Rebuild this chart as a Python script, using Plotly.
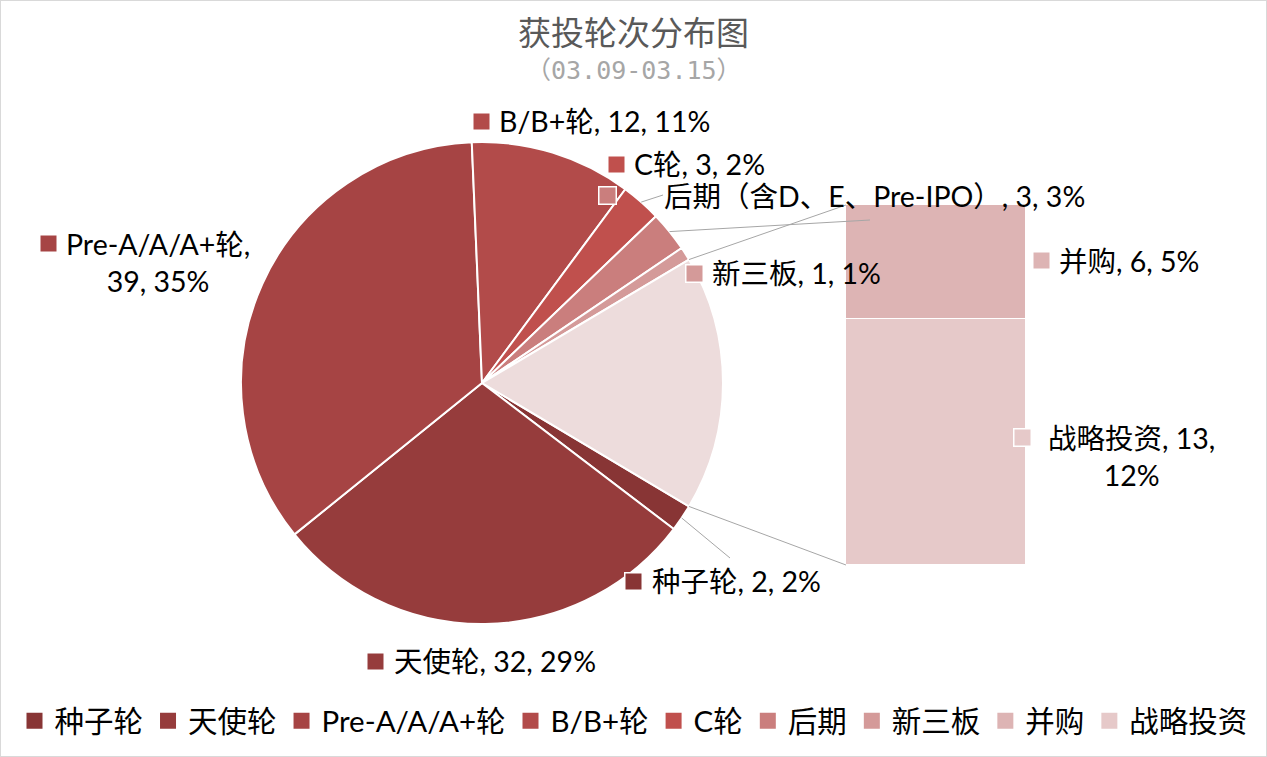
import math
import plotly.graph_objects as go

# ---------------- data ----------------
pie_labels = ["种子轮", "天使轮", "Pre-A/A/A+轮", "B/B+轮", "C轮", "后期", "新三板"]
pie_label_text = ["种子轮", "天使轮", "Pre-A/A/A+轮", "B/B+轮", "C轮", "后期（含D、E、Pre-IPO）", "新三板"]
pie_values = [2, 32, 39, 12, 3, 3, 1]
pie_pcts = ["2%", "29%", "35%", "11%", "2%", "3%", "1%"]

bar_labels = ["战略投资", "并购"]
bar_values = [13, 6]
bar_pcts = ["12%", "5%"]

legend_order = ["种子轮", "天使轮", "Pre-A/A/A+轮", "B/B+轮", "C轮", "后期", "新三板", "并购", "战略投资"]

title_text = "获投轮次分布图"
subtitle_text = "（03.09-03.15）"

# ---------------- styles ----------------
W, H = 1267, 757
colors = {
    "种子轮": "#883535",
    "天使轮": "#963C3C",
    "Pre-A/A/A+轮": "#A64444",
    "B/B+轮": "#B24B4A",
    "C轮": "#C0504D",
    "后期": "#CA7E7D",
    "新三板": "#D49A99",
    "并购": "#DDB4B4",
    "战略投资": "#E6C9C9",
}
other_color = "#EDDCDC"
FONT = "Lato, 'Noto Sans CJK SC', sans-serif"
LINE_GRAY = "#A6A6A6"


def px(x):
    return x / W


def py(y):
    return 1 - y / H


# pie geometry (pixels)
cx, cy, R = 482, 383, 241
# bar geometry (pixels)
bx0, bx1, by0, by1 = 846, 1026, 205, 565

total = sum(pie_values) + sum(bar_values)
other_val = sum(bar_values)
cum_before_other = sum(pie_values)
rotation = 90 - (cum_before_other + other_val / 2) / total * 360
rotation = rotation % 360


def angle_at(v):
    return rotation + v / total * 360


def pie_point(a):
    r = math.radians(a)
    return cx + R * math.sin(r), cy - R * math.cos(r)


fig = go.Figure()

fig.add_trace(go.Pie(
    labels=pie_labels + ["其他"],
    values=pie_values + [other_val],
    sort=False,
    direction="clockwise",
    rotation=rotation,
    marker=dict(colors=[colors[l] for l in pie_labels] + [other_color],
                line=dict(color="white", width=2)),
    textinfo="none",
    hoverinfo="label+value+percent",
    showlegend=False,
    domain=dict(x=[px(cx - R), px(cx + R)], y=[py(cy + R), py(cy - R)]),
))

for name, val in zip(bar_labels, bar_values):
    fig.add_trace(go.Bar(
        x=[0], y=[val], name=name, width=1,
        marker=dict(color=colors[name], line=dict(color="white", width=1.5)),
        showlegend=False, hoverinfo="name+y",
        xaxis="x", yaxis="y",
    ))

for name in legend_order:
    fig.add_trace(go.Scatter(
        x=[None], y=[None], mode="markers", name=name,
        marker=dict(symbol="square", size=18, color=colors[name]),
        xaxis="x", yaxis="y", showlegend=True,
    ))

# ---------------- annotations ----------------
ann = []
ann.append(dict(text=title_text, x=0.5, y=py(32), xref="paper", yref="paper",
                showarrow=False, font=dict(size=33, color="#595959", family=FONT),
                xanchor="center", yanchor="middle"))
ann.append(dict(text=subtitle_text, x=0.5, y=py(70), xref="paper", yref="paper",
                showarrow=False,
                font=dict(size=25, color="#A6A6A6", family="'DejaVu Sans Mono', 'Noto Sans CJK SC', monospace"),
                xanchor="center", yanchor="middle"))

vals_by_name = dict(zip(pie_labels, pie_values))
pcts_by_name = dict(zip(pie_labels, pie_pcts))
vals_by_name.update(dict(zip(bar_labels, bar_values)))
pcts_by_name.update(dict(zip(bar_labels, bar_pcts)))
full_name = dict(zip(pie_labels, pie_label_text))
full_name.update({b: b for b in bar_labels})

# label placement: (square x center, square y, text x, text y, text anchor)
label_pos = {
    "B/B+轮": (481, 121, 497, 121, "left"),
    "C轮": (616, 164, 632, 164, "left"),
    "后期": (607, 196, 662, 196, "left"),
    "新三板": (694, 273, 710, 273, "left"),
    "并购": (1041, 261, 1057, 261, "left"),
    "战略投资": (1022, 437, 1131, 456, "center"),
    "种子轮": (633, 581, 650, 581, "left"),
    "天使轮": (375, 661, 392, 661, "left"),
    "Pre-A/A/A+轮": (48, 243, 158, 262, "center"),
}
for name, (sx, sy, tx, ty, anchor) in label_pos.items():
    if name == "Pre-A/A/A+轮":
        txt = f"{full_name[name]},<br>{vals_by_name[name]}, {pcts_by_name[name]}"
    elif name == "战略投资":
        txt = f"{full_name[name]}, {vals_by_name[name]},<br>{pcts_by_name[name]}"
    else:
        txt = f"{full_name[name]}, {vals_by_name[name]}, {pcts_by_name[name]}"
    # legend-key square of the data label
    ann.append(dict(text=" ", x=px(sx), y=py(sy), xref="paper", yref="paper",
                    showarrow=False, width=16, height=16, borderpad=0,
                    bgcolor=colors[name], bordercolor="white", borderwidth=1.5,
                    font=dict(size=4), xanchor="center", yanchor="middle"))
    ann.append(dict(text=txt, x=px(tx), y=py(ty), xref="paper", yref="paper",
                    showarrow=False, font=dict(size=28.5, color="#000000", family=FONT),
                    xanchor=anchor, yanchor="middle", align="center"))

# ---------------- shapes ----------------
shapes = []
# connector lines between the pie's "other" slice and the bar
a_start = angle_at(cum_before_other)
a_end = angle_at(cum_before_other + other_val)
p1 = pie_point(a_start)
p2 = pie_point(a_end)
for (x0, y0), (x1, y1) in [(p1, (bx0, by0)), (p2, (bx0, by1))]:
    shapes.append(dict(type="line", xref="paper", yref="paper",
                       x0=px(x0), y0=py(y0), x1=px(x1), y1=py(y1),
                       line=dict(color=LINE_GRAY, width=1), layer="above"))

# leader lines from slice middles to labels
leader_ends = {"C轮": (663, 195), "后期": (870, 220), "种子轮": (730, 558)}
cum = 0
for name, v in zip(pie_labels, pie_values):
    if name in leader_ends:
        mx, my = pie_point(angle_at(cum + v / 2))
        ex, ey = leader_ends[name]
        shapes.append(dict(type="line", xref="paper", yref="paper",
                           x0=px(mx), y0=py(my), x1=px(ex), y1=py(ey),
                           line=dict(color=LINE_GRAY, width=1), layer="above"))
    cum += v

# chart border
shapes.append(dict(type="rect", xref="paper", yref="paper", x0=0, y0=0, x1=1, y1=1,
                   line=dict(color="#D9D9D9", width=2), layer="below"))

fig.update_layout(
    width=W, height=H,
    margin=dict(l=0, r=0, t=0, b=0),
    paper_bgcolor="white", plot_bgcolor="white",
    barmode="stack", bargap=0,
    xaxis=dict(domain=[px(bx0), px(bx1)], range=[-0.5, 0.5], visible=False, fixedrange=True),
    yaxis=dict(domain=[py(by1), py(by0)], range=[0, total - sum(pie_values)], visible=False, fixedrange=True),
    legend=dict(orientation="h", x=0.5, xanchor="center", y=py(721), yanchor="middle",
                font=dict(size=29.5, color="#000000", family=FONT),
                itemwidth=30, traceorder="normal", bgcolor="rgba(0,0,0,0)"),
    annotations=ann,
    shapes=shapes,
    font=dict(family=FONT),
)

fig.write_html("out.html", config={"displayModeBar": False},
               post_script="document.body.style.margin='0';")
